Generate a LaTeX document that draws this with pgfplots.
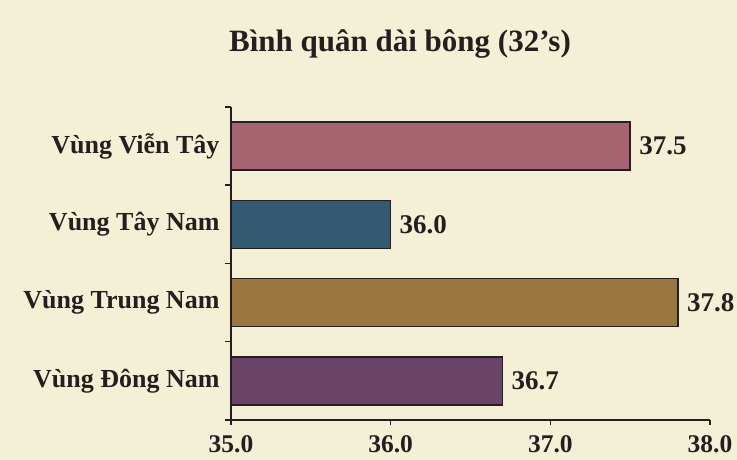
\documentclass[border=0pt]{standalone}
\usepackage{pgfplots}
\pgfplotsset{compat=1.18}
\usepackage{fontspec}
\setmainfont{Liberation Serif}
\definecolor{bg}{HTML}{F4F0D5}
\definecolor{ink}{HTML}{231F20}
\definecolor{cA}{HTML}{A66470}
\definecolor{cB}{HTML}{335A71}
\definecolor{cC}{HTML}{9A7640}
\definecolor{cD}{HTML}{6A4466}
\begin{document}
\begin{tikzpicture}[x=1pt,y=1pt]
\fill[bg] (0,0) rectangle (737,460);
\useasboundingbox (0,0) rectangle (737,460);
\node[anchor=base, text=ink, font=\fontsize{31}{36}\selectfont\bfseries] at (400,408) {Bình quân dài bông (32’s)};
\begin{axis}[
  at={(231pt,40pt)}, anchor=south west,
  scale only axis, width=479pt, height=313pt,
  xmin=35, xmax=38, ymin=0.5, ymax=4.5,
  axis x line*=bottom, axis y line*=left,
  axis line style={ink, line width=2pt},
  xbar, bar width=48pt, bar shift=0pt,
  xtick={35,36,37,38},
  ytick={1,2,3,4},
  yticklabels={Vùng Đông Nam, Vùng Trung Nam, Vùng Tây Nam, Vùng Viễn Tây},
  minor ytick={0.5,1.5,2.5,3.5,4.5},
  major tick length=0pt,
  minor tick length=6pt,
  every tick/.style={ink, line width=1.5pt},
  tick align=outside,
  extra x ticks={35,36,37,38}, extra x tick labels={},
  extra x tick style={major tick length=5pt, tick align=outside},
  /pgf/number format/assume math mode=true,
  /pgf/number format/.cd, fixed, zerofill, precision=1, /pgfplots/.cd,
  xticklabel style={font=\fontsize{25.5}{30}\selectfont\bfseries, text=ink, inner sep=1pt, yshift=-14pt},
  yticklabel style={font=\fontsize{26}{30}\selectfont\bfseries, text=ink, xshift=-8pt},
  point meta=x,
  nodes near coords,
  nodes near coords align=horizontal,
  every node near coord/.append style={font=\fontsize{27}{30}\selectfont\bfseries, text=ink, anchor=west, xshift=5pt},
  clip=false,
]
\addplot[fill=cA, draw=ink, line width=1.5pt] coordinates {(37.5,4)};
\addplot[fill=cB, draw=ink, line width=1.5pt] coordinates {(36.0,3)};
\addplot[fill=cC, draw=ink, line width=1.5pt] coordinates {(37.8,2)};
\addplot[fill=cD, draw=ink, line width=1.5pt] coordinates {(36.7,1)};
\end{axis}
\end{tikzpicture}
\end{document}
